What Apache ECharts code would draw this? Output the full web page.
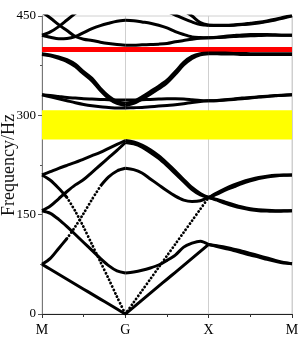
<!DOCTYPE html>
<html>
<head>
<meta charset="utf-8">
<script src="https://cdn.jsdelivr.net/npm/echarts@6.0.0/dist/echarts.min.js"></script>
<style>
html,body{margin:0;padding:0;background:#fff;}
#chart{width:300px;height:348px;}
</style>
</head>
<body>
<div id="chart"></div>
<script>
// Path positions along each segment (fraction of segment)
const T = [0, 0.1, 0.2, 0.3, 0.4, 0.5, 0.6, 0.7, 0.8, 0.9, 1];
const kLabels = ['M', 'G', 'X', 'M'];
const yTickValues = [0, 150, 300, 450];
const gapBand = [263.5, 307.7];   // yellow band gap (Hz)
const redBand = [395.8, 403.2];   // red line (Hz)

// Segment M -> G : frequencies (Hz) at T
const bandsMG = [
  [75, 67.5, 60, 52.5, 45, 37.5, 30, 22.5, 15, 7.5, 0],
  [156, 152, 143, 132, 120, 108, 96, 84, 73, 65, 62],
  [75, 84, 99, 114, 132, 152, 173, 193, 207, 216, 220],
  [156, 163, 174, 185, 195, 203, 214, 225, 236, 247, 259],
  [210, 215, 220, 224.5, 229, 234, 239, 244, 250, 256, 262],
  [210, 202, 190, 176, 155, 131, 105, 79, 53, 26, 0],
  [331, 330, 328.5, 327, 326, 325, 324.5, 324, 323.5, 323, 323],
  [331, 328, 325, 322, 319, 316.5, 314.5, 313, 312, 311, 311],
  [393, 391, 388, 384, 377, 366, 356, 341, 329, 321, 318],
  [392, 390, 386, 381, 373.5, 362.5, 352, 337.5, 325.5, 318, 315],
  [421, 426, 434, 444, 454, 464, null, null, null, null, null],
  [456, 447, 437, 428, 419, 415, 413, 410.5, 408.5, 407, 406],
  [421, 418, 415.5, 416, 419, 425, 431, 435.5, 439, 442, 443.5]
];

// Segment G -> X
const bandsGX = [
  [0, 17.6, 35.2, 52.8, 70.4, 88, 105.6, 123.2, 140.8, 158.4, 176],
  [0, 10.5, 21, 31.5, 42, 52.5, 63, 73.5, 84, 94.5, 105],
  [62, 63.5, 66, 69.5, 74, 81, 89, 101, 107, 110, 105],
  [220, 218, 213, 204, 195, 186, 178, 172, 170, 171, 176],
  [262, 260, 255, 248, 239, 228, 216, 203, 191, 182, 176],
  [259, 257, 252, 244, 235, 224, 212, 200, 188, 180, 176],
  [323, 323, 323.5, 324, 324.5, 325, 325, 324.5, 323.5, 322.5, 322],
  [311, 311.5, 312, 313, 314, 315, 316, 317.5, 319.5, 321, 322],
  [318, 321, 328, 336, 344, 353, 366, 380, 389, 393, 394],
  [315, 318, 324.5, 332, 340, 349, 362, 376, 386, 391.5, 393],
  [443.5, 443, 441, 439, 436, 432, 426.5, 422, 418.5, 417.5, 417],
  [406, 406, 406.5, 407, 407.5, 408.5, 411, 413, 415, 416.5, 417],
  [null, null, null, null, null, 457, 451.5, 446, 441, 437, 436],
  [null, null, null, null, null, null, null, 458, 450, 440, 436]
];

// Segment X -> M
const bandsXM = [
  [105, 103, 101, 98, 95, 91.5, 88, 84.5, 81, 78, 76],
  [105, 102, 99, 96, 92.5, 89, 86, 82.5, 79.5, 77, 76],
  [176, 173, 169, 165, 161.5, 159, 157.5, 156.5, 156, 156, 156],
  [176, 172, 167, 163, 160, 157.5, 156, 155.5, 155, 155.5, 156],
  [176, 181, 187, 192, 197, 201, 204.5, 207, 208.5, 209.5, 210],
  [176, 183, 189.5, 195, 199.5, 203, 206, 208, 209.5, 210, 210],
  [322, 322.5, 323.5, 324.5, 326, 327, 328, 329, 330, 330.5, 331],
  [322, 322, 323, 324, 325, 326, 327.5, 328.5, 329.5, 330.5, 331],
  [394, 394, 394, 393.5, 393.5, 393, 393, 393, 393, 393, 393],
  [393, 393, 392.5, 392.5, 392, 392, 392, 392, 392, 392, 392],
  [417, 417.5, 418, 419, 419.5, 420, 420.5, 421, 421, 421, 421],
  [417, 418, 419.5, 420.5, 421.5, 422, 422, 422, 421.5, 421, 421],
  [436, 436, 436, 436.5, 437.5, 439, 440.5, 442.5, 445, 448, 451],
  [436, 435.5, 435.5, 436, 437, 438, 439.5, 441.5, 444, 447, 450]
];

// which index ranges of a band look dotted (steep parts sampled sparsely)
const dottedParts = { 'MG-2': [3, 7], 'MG-5': [3, 10], 'GX-0': [0, 10] };

const series = [];
const solidStyle = { color: '#000', width: 3 };
const dotStyle = { color: '#000', width: 2.8, type: [0.1, 3.6], cap: 'round' };

function pushLine(pts, style) {
  const d = pts.filter(p => p !== null);
  if (d.length < 2) return;
  series.push({
    type: 'line', data: d, smooth: 0.3, symbol: 'none', showSymbol: false,
    lineStyle: style, silent: true, animation: false, z: 3, clip: true
  });
}

function addSegment(name, offset, bands) {
  bands.forEach((row, bi) => {
    const pts = T.map((t, i) => row[i] === null ? null : [offset + t, row[i]]);
    const dr = dottedParts[name + '-' + bi];
    if (!dr) { pushLine(pts, solidStyle); return; }
    pushLine(pts.slice(0, dr[0] + 1), solidStyle);
    pushLine(pts.slice(dr[0], dr[1] + 1), dotStyle);
    pushLine(pts.slice(dr[1]), solidStyle);
  });
}

addSegment('MG', 0, bandsMG);
addSegment('GX', 1, bandsGX);
addSegment('XM', 2, bandsXM);

series.push({
  type: 'line', data: [], z: 1, silent: true, animation: false,
  markArea: {
    silent: true,
    data: [
      [{ yAxis: gapBand[0], itemStyle: { color: '#ffff00', opacity: 1 } }, { yAxis: gapBand[1] }],
      [{ yAxis: redBand[0], itemStyle: { color: '#ff0000', opacity: 1 } }, { yAxis: redBand[1] }]
    ]
  }
});

const chart = echarts.init(document.getElementById('chart'), null, { renderer: 'canvas' });
chart.setOption({
  backgroundColor: '#fff',
  animation: false,
  grid: { left: 42, right: 8, top: 16, bottom: 34, containLabel: false, outerBoundsMode: 'none',
          show: true, borderColor: '#d0d0d0', borderWidth: 1, backgroundColor: 'transparent' },
  xAxis: {
    type: 'value', min: 0, max: kLabels.length - 1, interval: 1,
    axisLine: { show: true, onZero: false, lineStyle: { color: '#222', width: 1 } },
    axisTick: { show: true, length: 4, lineStyle: { color: '#333' } },
    minorTick: { show: true, splitNumber: 2, length: 3, lineStyle: { color: '#333' } },
    splitLine: { show: true, lineStyle: { color: '#cfcfcf', width: 1 } },
    axisLabel: {
      formatter: v => kLabels[Math.round(v)], color: '#000',
      fontFamily: 'Liberation Serif', fontSize: 14, margin: 9
    }
  },
  yAxis: {
    type: 'value', min: yTickValues[0], max: yTickValues[yTickValues.length - 1], interval: 150,
    name: 'Frequency/Hz', nameLocation: 'middle', nameGap: 24, nameMoveOverlap: false,
    nameTextStyle: { fontFamily: 'Liberation Serif', fontSize: 18, color: '#111' },
    axisLine: { show: true, lineStyle: { color: '#777', width: 1 } },
    axisTick: { show: true, length: 4, lineStyle: { color: '#555' } },
    minorTick: { show: true, splitNumber: 2, length: 2, lineStyle: { color: '#555' } },
    splitLine: { show: false },
    axisLabel: { color: '#000', fontFamily: 'Liberation Serif', fontSize: 13, margin: 6 }
  },
  series: series
});
</script>
</body>
</html>
